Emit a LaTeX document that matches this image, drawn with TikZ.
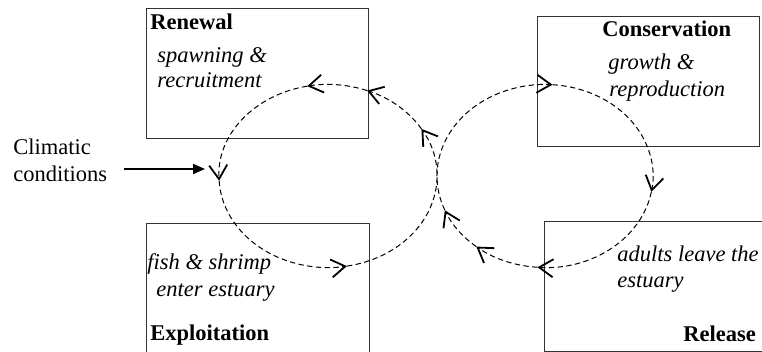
\documentclass[tikz,border=0pt]{standalone}
\usepackage{fontspec}
\setmainfont{Liberation Serif}
\usetikzlibrary{arrows.meta}
\tikzset{
  boxst/.style={draw=black!80, line width=0.6pt, inner sep=0pt, anchor=north west},
  lbl/.style={anchor=base west, inner sep=0pt, font=\fontsize{11.25}{13.5}\selectfont},
  ttl/.style={lbl, font=\fontsize{11.25}{13.5}\selectfont\bfseries},
  itl/.style={lbl, font=\fontsize{11.25}{13.5}\selectfont\itshape},
  flow/.style={dash pattern=on 2.7pt off 1.7pt, line width=0.5pt,
    -{Straight Barb[length=7pt,width=9pt,line width=0.9pt]}},
  cause/.style={line width=1pt, -{Triangle[length=6pt,width=5pt]}}
}
\begin{document}
\begin{tikzpicture}[x=0.5pt,y=0.5pt]
\useasboundingbox (0,0) rectangle (762,352);
\clip (0,0) rectangle (762,352);
% boxes
\node[boxst, minimum width=111pt, minimum height=65pt] (renewal) at (146,344) {};
\node[boxst, minimum width=111pt, minimum height=65pt] (conservation) at (537,336) {};
\node[boxst, minimum width=111.5pt, minimum height=72pt] (exploitation) at (146,129) {};
\node[boxst, minimum width=114pt, minimum height=65pt] (release) at (544,131) {};
% texts
\node[ttl] (tRenewal) at (150,322) {Renewal};
\node[itl] (tSpawn) at (157,289) {spawning \&};
\node[itl] (tRecruit) at (157,264) {recruitment};
\node[ttl] (tCons) at (602,315) {Conservation};
\node[itl] (tGrowth) at (608,282) {growth \&};
\node[itl] (tRepro) at (609,255) {reproduction};
\node[itl] (tFish) at (147,82) {fish \& shrimp};
\node[itl] (tEnter) at (156,55) {enter estuary};
\node[ttl] (tExpl) at (150,11) {Exploitation};
\node[itl] (tAdults) at (617,90) {adults leave the};
\node[itl] (tEstuary) at (617,64) {estuary};
\node[ttl] (tRelease) at (683,10) {Release};
\node[lbl] (tClim) at (13,197) {Climatic};
\node[lbl] (tCond) at (13,170) {conditions};
% climatic arrow
\coordinate (climA) at (124,183);
\coordinate (climB) at (205,183);
\draw[cause] (climA) -- (climB);
% loop centres
\coordinate (Lc) at (328,176);
\coordinate (Rc) at (545,176);
% left loop, counter-clockwise
\draw[flow] ([shift={(Lc)}]280:54.5pt and 45.75pt) arc[start angle=280, end angle=391, x radius=54.5pt, y radius=45.75pt];
\draw[flow] ([shift={(Lc)}]31:54.5pt and 45.75pt) arc[start angle=31, end angle=69, x radius=54.5pt, y radius=45.75pt];
\draw[flow] ([shift={(Lc)}]69:54.5pt and 45.75pt) arc[start angle=69, end angle=101, x radius=54.5pt, y radius=45.75pt];
\draw[flow] ([shift={(Lc)}]101:54.5pt and 45.75pt) arc[start angle=101, end angle=183, x radius=54.5pt, y radius=45.75pt];
\draw[flow] ([shift={(Lc)}]183:54.5pt and 45.75pt) arc[start angle=183, end angle=280, x radius=54.5pt, y radius=45.75pt];
% right loop, clockwise
\draw[flow] ([shift={(Rc)}]86:54pt and 45.75pt) arc[start angle=86, end angle=-10, x radius=54pt, y radius=45.75pt];
\draw[flow] ([shift={(Rc)}]350:54pt and 45.75pt) arc[start angle=350, end angle=266, x radius=54pt, y radius=45.75pt];
\draw[flow] ([shift={(Rc)}]266:54pt and 45.75pt) arc[start angle=266, end angle=230.5, x radius=54pt, y radius=45.75pt];
\draw[flow] ([shift={(Rc)}]230.5:54pt and 45.75pt) arc[start angle=230.5, end angle=202, x radius=54pt, y radius=45.75pt];
\draw[flow] ([shift={(Rc)}]202:54pt and 45.75pt) arc[start angle=202, end angle=86, x radius=54pt, y radius=45.75pt];
\end{tikzpicture}
\end{document}
